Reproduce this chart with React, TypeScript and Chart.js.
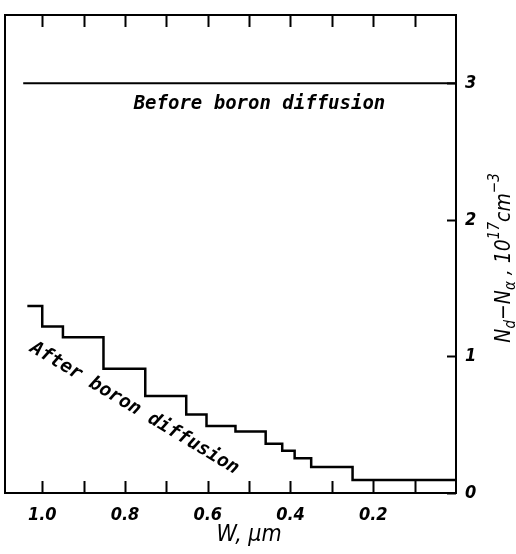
import React, { useEffect, useRef } from 'react';
import { Chart, registerables } from 'chart.js';

Chart.register(...registerables);

// Tick values
const xTickValues = [1.0, 0.9, 0.8, 0.7, 0.6, 0.5, 0.4, 0.3, 0.2, 0.1];
const xLabelValues = [1.0, 0.8, 0.6, 0.4, 0.2];
const yTickValues = [0, 1, 2, 3];

// "Before boron diffusion" profile
const beforeX = [1.046, 0];
const beforeY = [3, 3];

// "After boron diffusion" step profile (each value holds until next x)
const afterX = [1.036, 1.0, 0.95, 0.852, 0.751, 0.652, 0.603, 0.533, 0.46, 0.42, 0.39, 0.35, 0.25, 0];
const afterY = [1.37, 1.22, 1.14, 0.91, 0.71, 0.575, 0.49, 0.45, 0.36, 0.31, 0.255, 0.19, 0.095, 0.095];

// Annotations
const beforeLabel = { text: 'Before boron diffusion', x: 0.475, y: 2.85, angle: 0 };
const afterLabel = { text: 'After boron diffusion', x: 0.777, y: 0.62, angle: 31 };
const xTitle = { text: 'W, \u03bcm', x: 0.5 };

const MONO = 'italic bold 19px "DejaVu Sans Mono", "Liberation Mono", monospace';
const FAM = '"DejaVu Sans Condensed", "Liberation Sans", sans-serif';
const TICKFONT = { family: FAM, size: 18, style: 'italic' as const, weight: 'bold' as const };

const decorPlugin = {
  id: 'decor',
  afterDraw(chart: any) {
    const { ctx, chartArea: a, scales } = chart;
    const xs = scales.x;
    const ys = scales.y;
    ctx.save();
    ctx.strokeStyle = '#000';
    ctx.fillStyle = '#000';
    ctx.lineWidth = 2;
    ctx.lineCap = 'butt';
    // frame
    ctx.strokeRect(a.left, a.top, a.right - a.left, a.bottom - a.top);
    // inward ticks top & bottom
    xs.ticks.forEach((t: any) => {
      const px = Math.round(xs.getPixelForValue(t.value)) + 0.5;
      ctx.beginPath();
      ctx.moveTo(px, a.bottom);
      ctx.lineTo(px, a.bottom - 12);
      ctx.moveTo(px, a.top);
      ctx.lineTo(px, a.top + 12);
      ctx.stroke();
    });
    // inward ticks right
    ys.ticks.forEach((t: any) => {
      const py = Math.round(ys.getPixelForValue(t.value)) + 0.5;
      ctx.beginPath();
      ctx.moveTo(a.right, py);
      ctx.lineTo(a.right - 9, py);
      ctx.stroke();
    });
    // annotations
    ctx.font = MONO;
    ctx.textAlign = 'center';
    ctx.textBaseline = 'middle';
    [beforeLabel, afterLabel].forEach((l) => {
      ctx.save();
      ctx.translate(xs.getPixelForValue(l.x), ys.getPixelForValue(l.y));
      ctx.rotate((l.angle * Math.PI) / 180);
      ctx.fillText(l.text, 0, 0);
      ctx.restore();
    });
    // x axis title
    ctx.font = `italic 23px ${FAM}`;
    ctx.textAlign = 'center';
    ctx.textBaseline = 'alphabetic';
    ctx.fillText(xTitle.text, xs.getPixelForValue(xTitle.x), 541);
    // y axis title with sub/superscripts
    const parts = [
      { t: 'N', k: 'n' },
      { t: 'd', k: 'sub' },
      { t: '\u2212N', k: 'n' },
      { t: '\u03b1', k: 'sub' },
      { t: ' , 10', k: 'n' },
      { t: '17', k: 'sup' },
      { t: 'cm', k: 'n' },
      { t: '\u22123', k: 'sup' },
    ];
    const fontFor = (k: string) => (k === 'n' ? `italic 21px ${FAM}` : `italic 15px ${FAM}`);
    let total = 0;
    parts.forEach((p) => {
      ctx.font = fontFor(p.k);
      total += ctx.measureText(p.t).width;
    });
    ctx.save();
    ctx.translate(510, 258);
    ctx.rotate(-Math.PI / 2);
    ctx.textAlign = 'left';
    ctx.textBaseline = 'alphabetic';
    let cx = -total / 2;
    parts.forEach((p) => {
      ctx.font = fontFor(p.k);
      const dy = p.k === 'sub' ? 5 : p.k === 'sup' ? -11 : 0;
      ctx.fillText(p.t, cx, dy);
      cx += ctx.measureText(p.t).width;
    });
    ctx.restore();
    ctx.restore();
  },
};

export default function App() {
  const ref = useRef<HTMLCanvasElement>(null);
  useEffect(() => {
    if (!ref.current) return;
    const chart = new Chart(ref.current, {
      type: 'line',
      data: {
        datasets: [
          {
            data: beforeX.map((x, i) => ({ x, y: beforeY[i] })),
            borderColor: '#000',
            borderWidth: 2,
            pointRadius: 0,
            fill: false,
          },
          {
            data: afterX.map((x, i) => ({ x, y: afterY[i] })),
            borderColor: '#000',
            borderWidth: 2.5,
            pointRadius: 0,
            stepped: 'before',
            fill: false,
          },
        ],
      },
      options: {
        animation: false,
        responsive: false,
        maintainAspectRatio: false,
        layout: { padding: { top: 15, left: 5, right: 0, bottom: 0 } },
        plugins: { legend: { display: false }, tooltip: { enabled: false } },
        scales: {
          x: {
            type: 'linear',
            reverse: true,
            min: 0,
            max: 1.09,
            position: 'bottom',
            afterBuildTicks: (s: any) => {
              s.ticks = xTickValues.map((v) => ({ value: v }));
            },
            afterFit: (s: any) => {
              s.height = 61;
              s.paddingLeft = 0;
              s.paddingRight = 0;
            },
            grid: { display: false, drawTicks: false },
            border: { display: false },
            ticks: {
              autoSkip: false,
              maxRotation: 0,
              color: '#000',
              padding: 12,
              font: TICKFONT,
              callback: (v: any) =>
                xLabelValues.some((l) => Math.abs(l - v) < 1e-6) ? Number(v).toFixed(1) : '',
            },
            title: { display: false },
          },
          y: {
            type: 'linear',
            position: 'right',
            min: 0,
            max: 3.5,
            afterBuildTicks: (s: any) => {
              s.ticks = yTickValues.map((v) => ({ value: v }));
            },
            afterFit: (s: any) => {
              s.width = 60;
              s.paddingTop = 0;
              s.paddingBottom = 0;
            },
            grid: { display: false, drawTicks: false },
            border: { display: false },
            ticks: {
              color: '#000',
              padding: 9,
              font: TICKFONT,
              callback: (v: any) => String(v),
            },
          },
        },
      },
      plugins: [decorPlugin],
    } as any);
    return () => chart.destroy();
  }, []);
  return (
    <div style={{ position: 'fixed', left: 0, top: 0, width: 516, height: 554, background: '#fff' }}>
      <canvas ref={ref} width={516} height={554} />
    </div>
  );
}
